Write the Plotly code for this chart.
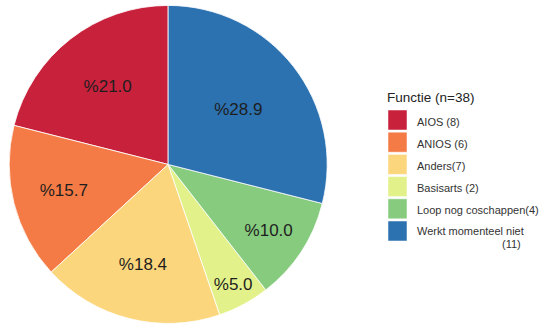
import plotly.graph_objects as go

categories = ["AIOS", "ANIOS", "Anders", "Basisarts", "Loop nog coschappen", "Werkt momenteel niet"]
counts = [8, 6, 7, 2, 4, 11]
pct_labels = ["%21.0", "%15.7", "%18.4", "%5.0", "%10.0", "%28.9"]
legend_labels = ["AIOS (8)", "ANIOS (6)", "Anders(7)", "Basisarts (2)", "Loop nog coschappen(4)",
                 "Werkt momenteel niet"]
legend_extra = "(11)"
colors = ["#C8213C", "#F47B45", "#FCD67C", "#E2F18A", "#86CB7E", "#2C71B0"]
legend_title = "Functie (n=38)"

first_share = counts[0] / sum(counts) * 360

fig = go.Figure()
fig.add_trace(go.Pie(
    labels=categories,
    values=counts,
    text=pct_labels,
    textinfo="text",
    textposition="inside",
    insidetextorientation="horizontal",
    textfont=dict(family="Liberation Sans, Arial, sans-serif", size=17, color="#1E1E1E"),
    marker=dict(colors=colors, line=dict(color="white", width=0.8)),
    sort=False,
    direction="counterclockwise",
    rotation=-first_share,
    showlegend=False,
    domain=dict(x=[0.017, 0.607], y=[0.0, 0.985]),
    hoverinfo="skip",
))

# custom legend
x0, sw_w, sw_h, pitch = 388, 19, 20, 22.2
y_top = 110
W, H = 539, 324
FONT = "Liberation Sans, Arial, sans-serif"
shapes = []
annotations = [dict(x=385 / W, y=1 - 97 / H, xref="paper", yref="paper", text=legend_title,
                    showarrow=False, xanchor="left", yanchor="middle",
                    font=dict(family=FONT, size=13.5, color="#222"))]
n = len(legend_labels)
for i, (lab, col) in enumerate(zip(legend_labels, colors)):
    yt = y_top + i * pitch
    shapes.append(dict(type="rect", xref="paper", yref="paper",
                       x0=x0 / W, x1=(x0 + sw_w) / W,
                       y0=1 - (yt + sw_h) / H, y1=1 - yt / H,
                       fillcolor=col, line=dict(color="white", width=0.5)))
    ymid = yt + sw_h / 2 + (0 if i == n - 1 else 1.5)
    annotations.append(dict(x=(x0 + sw_w + 8) / W, y=1 - ymid / H, xref="paper", yref="paper",
                            text=lab, showarrow=False, xanchor="left", yanchor="middle",
                            font=dict(family=FONT, size=11, color="#333")))
annotations.append(dict(x=523 / W, y=1 - 244 / H, xref="paper", yref="paper",
                        text=legend_extra, showarrow=False, xanchor="right", yanchor="middle",
                        font=dict(family=FONT, size=11, color="#333")))

fig.update_layout(
    width=W, height=H,
    margin=dict(l=0, r=0, t=0, b=0),
    paper_bgcolor="white",
    shapes=shapes,
    annotations=annotations,
)
fig.write_html("out.html")
